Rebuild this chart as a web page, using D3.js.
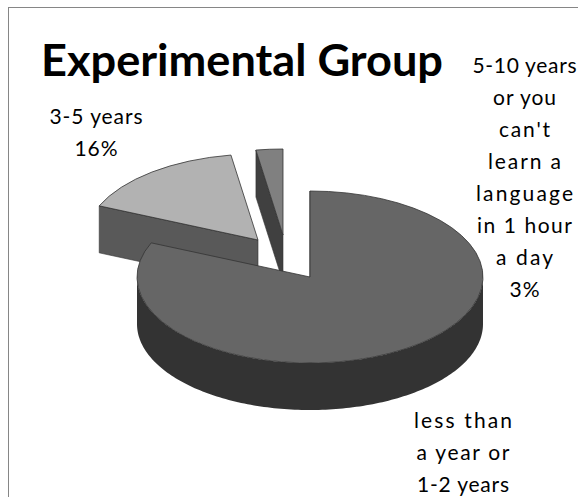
<!DOCTYPE html>
<html>
<head>
<meta charset="utf-8">
<script src="https://cdnjs.cloudflare.com/ajax/libs/d3/7.8.5/d3.min.js"></script>
<style>
  html, body { margin: 0; padding: 0; background: #fff; overflow: hidden; }
  text { font-family: Lato, Carlito, sans-serif; fill: #000; }
</style>
</head>
<body>
<div id="chart"></div>
<script>
// data
var titleText = 'Experimental Group';
var categories = ['less than a year or 1-2 years', '3-5 years', "5-10 years or you can't learn a language in 1 hour a day"];
var values = [81.5, 16, 2.5];
// the percent of the big slice falls below the picture in the original
var labelLines = [
    ['less than', 'a year or', '1-2 years'],
    ['3-5 years', '16%'],
    ['5-10 years', 'or you', "can't", 'learn a', 'language', 'in 1 hour', 'a day', '3%']
];

// layout
var width = 578, height = 497,
    cx = 310, cy = 277,
    rx = 173, ry = 86,
    depth = 47,
    // exploded slices
    shifts = [[0, 0], [-52, -37], [-27, -42]],
    topColors = ['#666666', '#b2b2b2', '#808080'],
    sideColors = ['#333333', '#595959', '#404040'],
    labelPos = [[463, 428], [96, 124], [524.5, 73]],
    // the original has loose, uneven letter spacing, so each line gets its own width
    lineWidths = [
        [98, 93, 92],
        [93, 43],
        [104, 63, 51, 73, 97, 95, 57, 30]
    ],
    lineGap = 32;

var svg = d3.select('#chart')
    .append('svg')
    .attr('width', width)
    .attr('height', height);

// frame runs off the picture on the right and at the bottom
svg.append('rect')
    .attr('x', 8.5).attr('y', 7.5)
    .attr('width', width + 20).attr('height', height + 20)
    .attr('fill', '#fff')
    .attr('stroke', '#868686');

var pie = d3.pie().sort(null).value(function (d) { return d; });
var arc = d3.arc().innerRadius(0).outerRadius(rx);
var slices = pie(values);

function rimX(a) { return rx * Math.sin(a); }
function rimY(a) { return -ry * Math.cos(a); }

var line = d3.line();

// bottom to top: small slices first, the big one covers them
var order = [2, 1, 0];
order.forEach(function (i) {
    var d = slices[i];
    var g = svg.append('g')
        .attr('transform', 'translate(' + (cx + shifts[i][0]) + ',' + (cy + shifts[i][1]) + ')');

    // cut face at the start of the slice
    var a = d.startAngle;
    g.append('path')
        .attr('d', line([[0, 0], [rimX(a), rimY(a)], [rimX(a), rimY(a) + depth], [0, depth]]) + 'Z')
        .attr('fill', sideColors[i])
        .attr('stroke', '#333')
        .attr('stroke-width', 0.6);

    // outer wall, only the part turned to the viewer
    var from = Math.max(d.startAngle, Math.PI / 2),
        to = Math.min(d.endAngle, Math.PI * 1.5);
    if (from < to) {
        var rim = d3.range(from, to, 0.02).concat([to]);
        var pts = rim.map(function (t) { return [rimX(t), rimY(t)]; })
            .concat(rim.slice().reverse().map(function (t) { return [rimX(t), rimY(t) + depth]; }));
        g.append('path')
            .attr('d', line(pts) + 'Z')
            .attr('fill', sideColors[i]);
    }

    // top face, the arc is squashed into the ellipse
    g.append('path')
        .attr('transform', 'scale(1,' + (ry / rx) + ')')
        .attr('d', arc(d))
        .attr('fill', topColors[i])
        .attr('stroke', '#333')
        .attr('stroke-width', 0.8)
        .attr('vector-effect', 'non-scaling-stroke');
});

// title
svg.append('text')
    .attr('x', 41).attr('y', 76)
    .attr('font-size', 43)
    .attr('font-weight', 700)
    .attr('textLength', 402)
    .attr('lengthAdjust', 'spacingAndGlyphs')
    .text(titleText);

// labels
labelLines.forEach(function (lines, i) {
    svg.append('g')
        .attr('data-category', categories[i])
        .selectAll('text')
        .data(lines)
        .enter().append('text')
        .attr('x', labelPos[i][0])
        .attr('y', function (d, j) { return labelPos[i][1] + j * lineGap; })
        .attr('text-anchor', 'middle')
        .attr('font-size', 21)
        .attr('textLength', function (d, j) { return lineWidths[i][j]; })
        .attr('lengthAdjust', 'spacing')
        .text(function (d) { return d; });
});
</script>
</body>
</html>
